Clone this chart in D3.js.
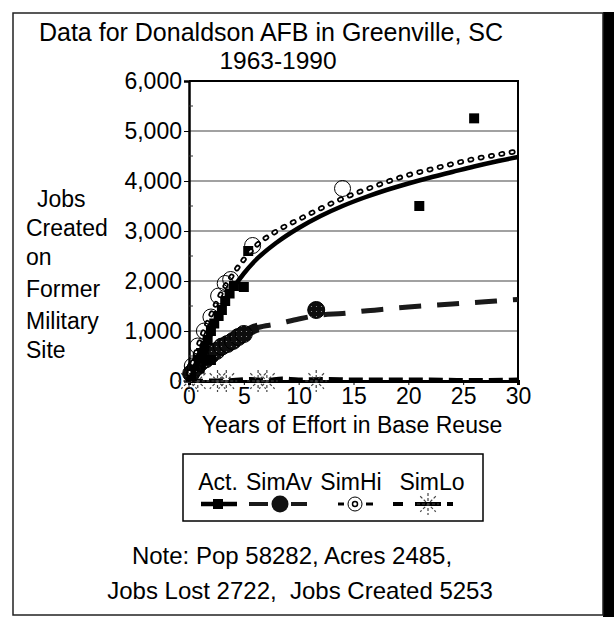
<!DOCTYPE html>
<html>
<head>
<meta charset="utf-8">
<script src="https://cdn.jsdelivr.net/npm/d3@7"></script>
<style>
  body { margin: 0; background: #fff; }
  svg { display: block; font-family: "Liberation Sans", Arial, sans-serif; }
</style>
</head>
<body>
<svg id="chart" width="614" height="617"></svg>
<script>
// ---- data ----
const yTicks = [0, 1000, 2000, 3000, 4000, 5000, 6000];
const xTicks = [0, 5, 10, 15, 20, 25, 30];

// actual jobs (squares)
const actPoints = [
  [0.2, 100], [0.5, 300], [0.8, 450], [1.1, 560], [1.4, 700], [1.7, 820],
  [2.0, 420], [2.0, 1000], [2.3, 1150], [2.7, 1300], [3.0, 1420], [3.3, 1600],
  [3.7, 1750], [4.1, 1900], [5.0, 1880], [5.4, 2600], [21, 3500], [26, 5253]
];
// smooth curve drawn through the actual series
const actCurve = [
  [1.2, 150], [1.5, 550], [2, 950], [3, 1470], [4, 1850], [5, 2150], [6, 2400],
  [8, 2770], [10, 3060], [12, 3300], [14, 3500], [16, 3670], [18, 3820],
  [20, 3950], [22, 4070], [24, 4180], [26, 4290], [28, 4390], [30, 4480]
];

// SimAv: dashed line + big stippled circles
const simAvLine = [
  [0, 100], [0.5, 220], [1, 350], [1.5, 440], [2, 530], [3, 660], [4, 790],
  [5, 930], [6, 1050], [6.3, 1070], [8, 1140], [10, 1240], [12, 1320],
  [14, 1350], [16, 1400], [18, 1440], [20, 1480], [22, 1510], [24, 1540],
  [26, 1570], [28, 1600], [30, 1630]
];
const simAvPoints = [
  [0.2, 150], [0.6, 260], [1, 360], [1.5, 430], [2, 520], [2.5, 600],
  [3, 690], [3.5, 740], [4, 800], [4.5, 880], [5, 940], [11.6, 1420]
];

// SimHi: dotted ring line + open circles
const simHiLine = [
  [0, 150], [0.5, 480], [1, 800], [2, 1320], [3, 1780], [4, 2130], [5, 2430],
  [6, 2680], [8, 3000], [10, 3230], [12, 3450], [14, 3650], [16, 3820],
  [18, 3980], [20, 4120], [22, 4230], [24, 4340], [26, 4440], [28, 4520], [30, 4600]
];
const simHiPoints = [
  [0.3, 300], [0.8, 700], [1.4, 1000], [2.0, 1280], [2.7, 1700],
  [3.3, 1950], [3.8, 2030], [5.8, 2710], [14, 3850]
];

// SimLo: dashed line near zero + asterisks
const simLoLine = [
  [0, 0], [2, 10], [4, 20], [5.5, 40], [7, 20], [8.5, 50], [10, 30],
  [12.5, 40], [15, 30], [18, 30], [20, 30], [22, 30], [25, 20], [27, 20], [30, 30]
];
const simLoPoints = [[0, 0], [0.8, 0], [2.6, 0], [3.4, 0], [6.3, 0], [7.1, 0], [11.6, 0]];

const legendNames = ["Act.", "SimAv", "SimHi", "SimLo"];

// ---- layout ----
const svg = d3.select("#chart");
const x = d3.scaleLinear().domain([0, 30]).range([189, 518]);
const y = d3.scaleLinear().domain([0, 6000]).range([381, 81]);
const line = d3.line().x(d => x(d[0])).y(d => y(d[1])).curve(d3.curveMonotoneX);

// stipple pattern for SimAv markers
const defs = svg.append("defs");
const pat = defs.append("pattern").attr("id", "stip")
  .attr("width", 5).attr("height", 5).attr("patternUnits", "userSpaceOnUse");
pat.append("rect").attr("width", 5).attr("height", 5).attr("fill", "#0d0d0d");
pat.append("circle").attr("cx", 1.5).attr("cy", 1.5).attr("r", 0.6).attr("fill", "#999");

// outer frame + shadow
svg.append("rect").attr("x", 603).attr("y", 12).attr("width", 11).attr("height", 605).attr("fill", "#000");
svg.append("rect").attr("x", 13).attr("y", 13).attr("width", 590).attr("height", 602)
  .attr("fill", "#fff").attr("stroke", "#222").attr("stroke-width", 1.5);

// titles
svg.append("text").attr("x", 271).attr("y", 41).attr("text-anchor", "middle")
  .attr("font-size", 25).text("Data for Donaldson AFB in Greenville, SC");
svg.append("text").attr("x", 278).attr("y", 69).attr("text-anchor", "middle")
  .attr("font-size", 24.5).text("1963-1990");

// grid lines
svg.append("g").selectAll("line").data(yTicks.filter(v => v > 0 && v < 6000)).join("line")
  .attr("x1", x(0)).attr("x2", x(30)).attr("y1", d => y(d)).attr("y2", d => y(d))
  .attr("stroke", "#444").attr("stroke-width", 1.2);

// plot border (top, right)
svg.append("path").attr("d", `M${x(0)},${y(6000)}H${x(30)}V${y(0)}`)
  .attr("fill", "none").attr("stroke", "#000").attr("stroke-width", 2);

// y axis
const yAxis = svg.append("g").attr("transform", `translate(${x(0)},0)`)
  .call(d3.axisLeft(y).tickValues(yTicks).tickSize(5).tickFormat(d3.format(",")));
yAxis.select(".domain").attr("stroke-width", 2.5);
yAxis.selectAll("text").attr("font-size", 23).attr("fill", "#000").attr("dx", 1)
  .attr("font-family", "Liberation Sans, Arial, sans-serif");
// minor inward ticks
svg.append("g").selectAll("line").data([500, 1500, 2500, 3500, 4500, 5500]).join("line")
  .attr("x1", x(0)).attr("x2", x(0) + 4).attr("y1", d => y(d)).attr("y2", d => y(d))
  .attr("stroke", "#333").attr("stroke-width", 1);

// x axis
const xAxis = svg.append("g").attr("transform", `translate(0,${y(0)})`)
  .call(d3.axisBottom(x).tickValues(xTicks).tickSize(4).tickPadding(3));
xAxis.select(".domain").attr("stroke-width", 3);
xAxis.selectAll("text").attr("font-size", 23).attr("fill", "#000")
  .attr("font-family", "Liberation Sans, Arial, sans-serif");

// axis titles
svg.append("text").attr("x", 352).attr("y", 433).attr("text-anchor", "middle")
  .attr("font-size", 23).text("Years of Effort in Base Reuse");
const yTitle = ["Jobs", "Created", "on", "Former", "Military", "Site"];
const yTitleX = [37, 26, 26, 26, 26, 26];
const yTitleY = [207, 236, 265, 297, 329, 358];
svg.append("g").selectAll("text").data(yTitle).join("text")
  .attr("x", (d, i) => yTitleX[i]).attr("y", (d, i) => yTitleY[i]).attr("font-size", 23).text(d => d);

// ---- series ----
const plot = svg.append("g");

// SimLo
plot.append("path").attr("d", line(simLoLine)).attr("fill", "none")
  .attr("stroke", "#000").attr("stroke-width", 4).attr("stroke-dasharray", "14,6");

function asterisk(g, cx, cy, r) {
  const a = g.append("g").attr("transform", `translate(${cx},${cy})`);
  for (let k = 0; k < 4; k++) {
    const ang = k * Math.PI / 4;
    a.append("line")
      .attr("x1", -r * Math.cos(ang)).attr("y1", -r * Math.sin(ang))
      .attr("x2", r * Math.cos(ang)).attr("y2", r * Math.sin(ang))
      .attr("stroke", "#444").attr("stroke-width", 1.2).attr("stroke-dasharray", "3,2");
  }
  return a;
}
simLoPoints.forEach(p => asterisk(plot, x(p[0]), y(p[1]), 11));

// SimAv
plot.append("path").attr("d", line(simAvLine)).attr("fill", "none")
  .attr("stroke", "#1a1a1a").attr("stroke-width", 5).attr("stroke-dasharray", "22,16");
plot.append("path").attr("d", line(simAvLine.filter(d => d[0] <= 6.3))).attr("fill", "none")
  .attr("stroke", "#111").attr("stroke-width", 10);
plot.append("g").selectAll("circle").data(simAvPoints).join("circle")
  .attr("cx", d => x(d[0])).attr("cy", d => y(d[1])).attr("r", 8.5)
  .attr("fill", "url(#stip)").attr("stroke", "#000").attr("stroke-width", 1);

// Act curve + squares
plot.append("path").attr("d", line(actCurve)).attr("fill", "none")
  .attr("stroke", "#000").attr("stroke-width", 4.5);
plot.append("g").selectAll("rect").data(actPoints).join("rect")
  .attr("x", d => x(d[0]) - 5).attr("y", d => y(d[1]) - 5)
  .attr("width", 10).attr("height", 10).attr("fill", "#000");

// SimHi: ring-dotted line
plot.append("path").attr("d", line(simHiLine)).attr("fill", "none")
  .attr("stroke", "#000").attr("stroke-width", 5.5).attr("stroke-linecap", "round")
  .attr("stroke-dasharray", "1.5,9");
plot.append("path").attr("d", line(simHiLine)).attr("fill", "none")
  .attr("stroke", "#fff").attr("stroke-width", 2).attr("stroke-linecap", "round")
  .attr("stroke-dasharray", "1.5,9");
plot.append("g").selectAll("circle").data(simHiPoints).join("circle")
  .attr("cx", d => x(d[0])).attr("cy", d => y(d[1])).attr("r", 8)
  .attr("fill", "none").attr("stroke", "#000").attr("stroke-width", 1);

// ---- legend ----
const lg = svg.append("g");
lg.append("rect").attr("x", 183).attr("y", 454).attr("width", 300).attr("height", 67)
  .attr("fill", "#fff").attr("stroke", "#000").attr("stroke-width", 1.5);
const lgX = [218, 279, 351, 432];
lg.selectAll("text").data(legendNames).join("text")
  .attr("x", (d, i) => lgX[i]).attr("y", 490).attr("text-anchor", "middle")
  .attr("font-size", 23).text(d => d);
const ly = 504;
// Act.
lg.append("line").attr("x1", 201).attr("x2", 237).attr("y1", ly).attr("y2", ly)
  .attr("stroke", "#000").attr("stroke-width", 4.5);
lg.append("rect").attr("x", 213).attr("y", ly - 5).attr("width", 10).attr("height", 10).attr("fill", "#000");
// SimAv
lg.append("line").attr("x1", 249).attr("x2", 268).attr("y1", ly).attr("y2", ly)
  .attr("stroke", "#1a1a1a").attr("stroke-width", 4);
lg.append("line").attr("x1", 291).attr("x2", 307).attr("y1", ly).attr("y2", ly)
  .attr("stroke", "#1a1a1a").attr("stroke-width", 4);
lg.append("circle").attr("cx", 280).attr("cy", ly).attr("r", 8.5).attr("fill", "#111");
// SimHi
lg.append("line").attr("x1", 338).attr("x2", 344).attr("y1", ly).attr("y2", ly)
  .attr("stroke", "#000").attr("stroke-width", 3);
lg.append("line").attr("x1", 366).attr("x2", 373).attr("y1", ly).attr("y2", ly)
  .attr("stroke", "#000").attr("stroke-width", 3);
lg.append("circle").attr("cx", 355).attr("cy", ly).attr("r", 7)
  .attr("fill", "none").attr("stroke", "#000").attr("stroke-width", 1);
lg.append("circle").attr("cx", 355).attr("cy", ly).attr("r", 2.5)
  .attr("fill", "#fff").attr("stroke", "#000").attr("stroke-width", 1.5);
// SimLo
lg.append("line").attr("x1", 393).attr("x2", 403).attr("y1", ly).attr("y2", ly)
  .attr("stroke", "#000").attr("stroke-width", 4);
lg.append("line").attr("x1", 415).attr("x2", 441).attr("y1", ly).attr("y2", ly)
  .attr("stroke", "#000").attr("stroke-width", 4);
lg.append("line").attr("x1", 447).attr("x2", 453).attr("y1", ly).attr("y2", ly)
  .attr("stroke", "#000").attr("stroke-width", 4);
asterisk(lg, 428, ly, 11);

// ---- note ----
svg.append("text").attr("x", 292).attr("y", 564).attr("text-anchor", "middle")
  .attr("font-size", 24).text("Note: Pop 58282, Acres 2485,");
svg.append("text").attr("x", 300).attr("y", 599).attr("text-anchor", "middle")
  .attr("font-size", 24).attr("xml:space", "preserve").style("white-space", "pre")
  .text("Jobs Lost 2722,  Jobs Created 5253");
</script>
</body>
</html>
